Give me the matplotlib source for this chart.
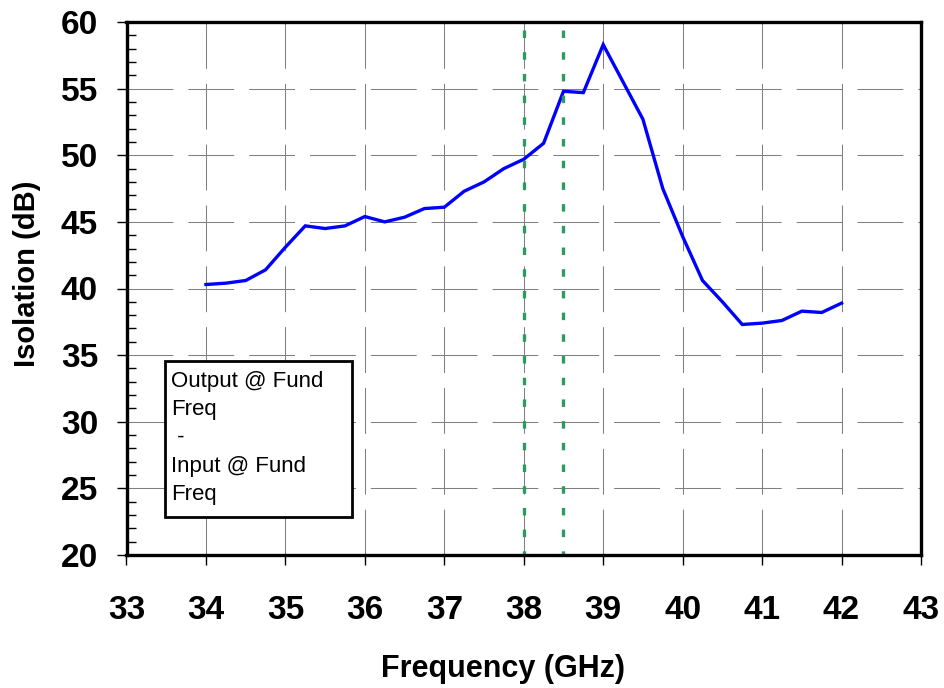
import matplotlib
matplotlib.use("Agg")
import matplotlib.pyplot as plt
from matplotlib.ticker import MultipleLocator
from matplotlib.patches import Rectangle

# ---- data ----
freq_ghz = [34.0, 34.25, 34.5, 34.75, 35.0, 35.25, 35.5, 35.75, 36.0, 36.25, 36.5,
            36.75, 37.0, 37.25, 37.5, 37.75, 38.0, 38.25, 38.5, 38.75, 39.0, 39.25,
            39.5, 39.75, 40.0, 40.25, 40.5, 40.75, 41.0, 41.25, 41.5, 41.75, 42.0]
isolation_db = [40.3, 40.4, 40.6, 41.4, 43.1, 44.7, 44.5, 44.7, 45.4, 45.0, 45.35,
                46.0, 46.1, 47.3, 48.0, 49.0, 49.7, 50.9, 54.8, 54.7, 58.3, 55.5,
                52.7, 47.5, 43.9, 40.6, 39.0, 37.3, 37.4, 37.6, 38.3, 38.2, 38.9]
marker_freqs = [38.0, 38.5]
x_ticks = [33, 34, 35, 36, 37, 38, 39, 40, 41, 42, 43]
y_ticks = [20, 25, 30, 35, 40, 45, 50, 55, 60]
legend_lines = ["Output @ Fund", "Freq", " -", "Input @ Fund", "Freq"]
x_label = "Frequency (GHz)"
y_label = "Isolation (dB)"

plt.rcParams['font.family'] = ['Liberation Sans', 'DejaVu Sans']

W, H = 944, 688
fig = plt.figure(figsize=(W / 100, H / 100), dpi=100)
L, R, T, B = 126.5, 921.0, 22.0, 555.0
ax = fig.add_axes([L / W, 1 - B / H, (R - L) / W, (B - T) / H])

ax.set_xlim(33, 43)
ax.set_ylim(20, 60)

# grid
ax.set_xticks(x_ticks)
ax.set_yticks(y_ticks)
ax.yaxis.set_minor_locator(MultipleLocator(1))
ax.grid(which='major', color='#808080', linewidth=0.75,
        linestyle=(0, (44, 14.4)), zorder=0)
ax.set_axisbelow(True)

# data line
ax.plot(freq_ghz, isolation_db, color='#0000FF', linewidth=2.4,
        solid_joinstyle='miter', zorder=3)

# marker lines
for f in marker_freqs:
    ax.plot([f, f], [60, 20], color='#2E9A62', linewidth=2.4,
            linestyle=(4.1, (2.25, 4.26)), zorder=4)

# spines
for s in ax.spines.values():
    s.set_linewidth(2.4)
    s.set_color('black')
    s.set_zorder(6)

ax.tick_params(axis='x', which='major', direction='out', length=7.5, width=1,
               pad=21, labelsize=24)
ax.tick_params(axis='y', which='major', direction='out', length=7.5, width=1,
               pad=13, labelsize=24)
ax.tick_params(axis='y', which='minor', direction='in', length=6.5, width=1)
for lab in ax.get_xticklabels() + ax.get_yticklabels():
    lab.set_fontweight('bold')

# axis labels
fig.text(503 / W, 1 - 669 / H, x_label, ha='center', va='center',
         fontsize=22, fontweight='bold')
fig.text(27 / W, 1 - 274 / H, y_label, ha='center', va='center',
         rotation=90, fontsize=21, fontweight='bold')

# legend-like text box
bx0, by0, bx1, by1 = 165, 361, 352, 517
rect = Rectangle((bx0 / W, 1 - by1 / H), (bx1 - bx0) / W, (by1 - by0) / H,
                 transform=fig.transFigure, facecolor='white',
                 edgecolor='black', linewidth=2.0, zorder=7)
fig.add_artist(rect)
base0 = 386.7
step = 28.3
for i, line in enumerate(legend_lines):
    fig.text(171 / W, 1 - (base0 + i * step) / H, line, ha='left',
             va='baseline', fontsize=16, zorder=8)

fig.savefig("out.png", dpi=100)
